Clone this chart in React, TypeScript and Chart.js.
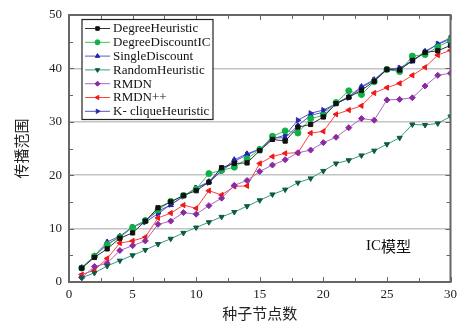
import React, { useEffect, useRef } from "react";
import { Chart, registerables } from "chart.js";
import { drawPoint } from "chart.js/helpers";

Chart.register(...registerables);

const seeds = [1,2,3,4,5,6,7,8,9,10,11,12,13,14,15,16,17,18,19,20,21,22,23,24,25,26,27,28,29,30];
const degreeHeuristic = [2.6,4.6,6.2,8.2,9.2,11.4,13.9,15.0,16.2,17.1,18.7,21.4,22.2,22.3,24.6,26.7,26.4,29.0,29.5,30.9,33.4,34.6,35.9,37.6,39.8,39.7,41.5,43.0,43.3,44.3];
const degreeDiscountIC = [2.6,4.8,7.0,8.4,10.2,11.5,13.5,15.1,16.2,17.4,20.3,20.9,21.5,23.1,24.8,27.3,28.3,27.9,30.6,31.2,33.6,35.8,35.1,37.5,39.8,39.4,42.3,42.6,44.0,45.3];
const singleDiscount = [2.7,4.9,7.5,8.6,10.3,11.5,13.3,14.4,16.1,17.6,18.8,20.9,22.9,24.0,24.9,27.0,27.0,29.3,31.2,31.8,33.5,34.7,36.6,37.9,39.9,40.0,41.3,43.2,44.5,45.5];
const randomHeuristic = [0.8,1.7,3.0,4.0,5.0,6.0,7.1,8.1,9.2,10.2,11.2,12.2,13.1,14.2,15.3,16.4,17.3,18.6,19.4,20.8,22.2,22.8,23.7,24.6,25.8,27.0,29.5,29.4,29.7,31.0];
const rmdn = [0.8,2.9,3.5,5.9,6.8,7.7,10.8,11.4,13.0,12.7,14.3,15.7,18.1,19.0,20.7,21.9,22.9,24.2,24.7,26.1,27.1,28.9,30.6,30.3,34.1,34.2,34.5,36.7,38.7,39.1];
const rmdnPP = [1.4,2.2,4.4,7.3,7.7,8.4,12.0,12.9,14.4,13.8,17.1,16.3,17.9,18.0,22.2,23.5,24.1,24.2,27.9,28.2,31.4,32.2,33.0,35.4,36.4,37.2,38.7,40.2,42.5,43.4];
const kClique = [2.6,4.8,7.1,8.4,10.3,11.2,12.8,14.5,16.0,17.6,18.6,20.8,22.6,23.8,24.9,26.8,27.5,30.3,31.6,32.2,33.4,34.5,36.4,37.8,39.8,40.1,41.4,43.0,44.6,45.7];

const seriesNames = ["DegreeHeuristic","DegreeDiscountIC","SingleDiscount","RandomHeuristic","RMDN","RMDN++","K- cliqueHeuristic"];
const seriesValues = [degreeHeuristic, degreeDiscountIC, singleDiscount, randomHeuristic, rmdn, rmdnPP, kClique];
const lineColors = ["#333333","#3cc060","#5a5ad0","#3a9a88","#b064c8","#ff4040","#5050c8"];
const markerColors = ["#111111","#10b048","#2020a8","#0e5a44","#8a2aa0","#f01818","#2a2ab0"];
const markerStyles = ["rect","circle","triangle","triangle","rectRot","triangle","triangle"];
const markerRotations = [0,0,0,180,0,-90,90];

const xTitle = "种子节点数";
const yTitle = "传播范围";
const modelLabel = "IC模型";

const serif = "'Liberation Serif', 'DejaVu Serif', serif";
const cjk = "'Noto Sans CJK SC', sans-serif";

const framePlugin = {
  id: "framePlugin",
  afterDatasetsDraw(chart: any) {
    const ctx = chart.ctx;
    const { left, right, top, bottom } = chart.chartArea;
    const xs = chart.scales.x;
    const ys = chart.scales.y;
    ctx.save();
    ctx.strokeStyle = "#666";
    ctx.lineWidth = 1;
    ctx.beginPath();
    for (let v = 0; v <= 30; v += 2.5) {
      const px = Math.round(xs.getPixelForValue(v)) + 0.5;
      const len = v % 5 === 0 ? 5 : 4;
      ctx.moveTo(px, bottom); ctx.lineTo(px, bottom - len);
      ctx.moveTo(px, top); ctx.lineTo(px, top + len);
    }
    for (let v = 0; v <= 50; v += 5) {
      const py = Math.round(ys.getPixelForValue(v)) + 0.5;
      const len = v % 10 === 0 ? 5 : 4;
      ctx.moveTo(left, py); ctx.lineTo(left + len, py);
      ctx.moveTo(right, py); ctx.lineTo(right - len, py);
    }
    ctx.stroke();
    ctx.strokeStyle = "#666";
    ctx.lineWidth = 2;
    ctx.strokeRect(left, top, right - left, bottom - top);

    // legend
    const bx = 82, by = 19.5, bw = 131, bh = 100;
    ctx.fillStyle = "#fff";
    ctx.fillRect(bx, by, bw, bh);
    ctx.strokeStyle = "#222";
    ctx.lineWidth = 1.2;
    ctx.strokeRect(bx, by, bw, bh);
    ctx.font = "13px " + serif;
    ctx.textBaseline = "middle";
    ctx.textAlign = "left";
    for (let i = 0; i < seriesNames.length; i++) {
      const y = 28.5 + i * 13.8;
      ctx.strokeStyle = lineColors[i];
      ctx.lineWidth = 1;
      ctx.beginPath();
      ctx.moveTo(85, y); ctx.lineTo(110, y);
      ctx.stroke();
      ctx.fillStyle = markerColors[i];
      ctx.strokeStyle = markerColors[i];
      drawPoint(ctx, { pointStyle: markerStyles[i], radius: 2.5, rotation: markerRotations[i], borderWidth: 1 } as any, 97.5, y);
      ctx.fillStyle = "#111";
      ctx.fillText(seriesNames[i], 113, y + 0.5);
    }

    ctx.fillStyle = "#111";
    ctx.font = "15px " + serif;
    ctx.textAlign = "left";
    ctx.textBaseline = "middle";
    const t1 = modelLabel.slice(0, 2);
    ctx.fillText(t1, 366, 246);
    const w1 = ctx.measureText(t1).width;
    ctx.font = "15px " + cjk;
    ctx.fillText(modelLabel.slice(2), 366 + w1, 246);
    ctx.restore();
  },
};

export default function App() {
  const ref = useRef<HTMLCanvasElement>(null);
  useEffect(() => {
    if (!ref.current) return;
    const datasets = seriesNames.map((name, i) => ({
      label: name,
      data: seriesValues[i].map((v, j) => ({ x: seeds[j], y: v })),
      borderColor: lineColors[i],
      backgroundColor: markerColors[i],
      pointBorderColor: markerColors[i],
      pointBackgroundColor: markerColors[i],
      pointStyle: markerStyles[i],
      pointRotation: markerRotations[i],
      pointRadius: 3,
      pointBorderWidth: 1,
      borderWidth: 1,
      tension: 0,
      fill: false,
    }));
    const chart = new Chart(ref.current, {
      type: "line",
      data: { datasets },
      options: {
        animation: false,
        responsive: false,
        layout: { padding: { left: 0, right: 10, top: 15, bottom: 0 } },
        plugins: { legend: { display: false }, tooltip: { enabled: false } },
        scales: {
          x: {
            type: "linear",
            min: 0,
            max: 30,
            afterFit: (s: any) => { s.height = 43; },
            ticks: { stepSize: 5, color: "#222", font: { family: serif, size: 13 }, padding: 5, maxRotation: 0 },
            grid: { display: false, drawTicks: false },
            border: { display: false },
            title: { display: true, text: xTitle, color: "#222", font: { family: cjk, size: 15 }, padding: { top: 2, bottom: 3 } },
          },
          y: {
            min: 0,
            max: 50,
            afterFit: (s: any) => { s.width = 69; },
            ticks: { stepSize: 10, color: "#222", font: { family: serif, size: 13 }, padding: 7 },
            grid: {
              drawTicks: false,
              lineWidth: 1.5,
              color: (c: any) => (c.tick && (c.tick.value === 0 || c.tick.value === 50) ? "rgba(0,0,0,0)" : "#c4c4c4"),
            },
            border: { display: false },
            title: { display: true, text: yTitle, color: "#222", font: { family: cjk, size: 15 }, padding: { top: 12, bottom: 6 } },
          },
        },
      },
      plugins: [framePlugin],
    } as any);
    return () => chart.destroy();
  }, []);
  return (
    <div style={{ position: "fixed", left: 0, top: 0, width: 462, height: 325, background: "#fff" }}>
      <canvas ref={ref} width={462} height={325} style={{ width: 462, height: 325 }} />
    </div>
  );
}
